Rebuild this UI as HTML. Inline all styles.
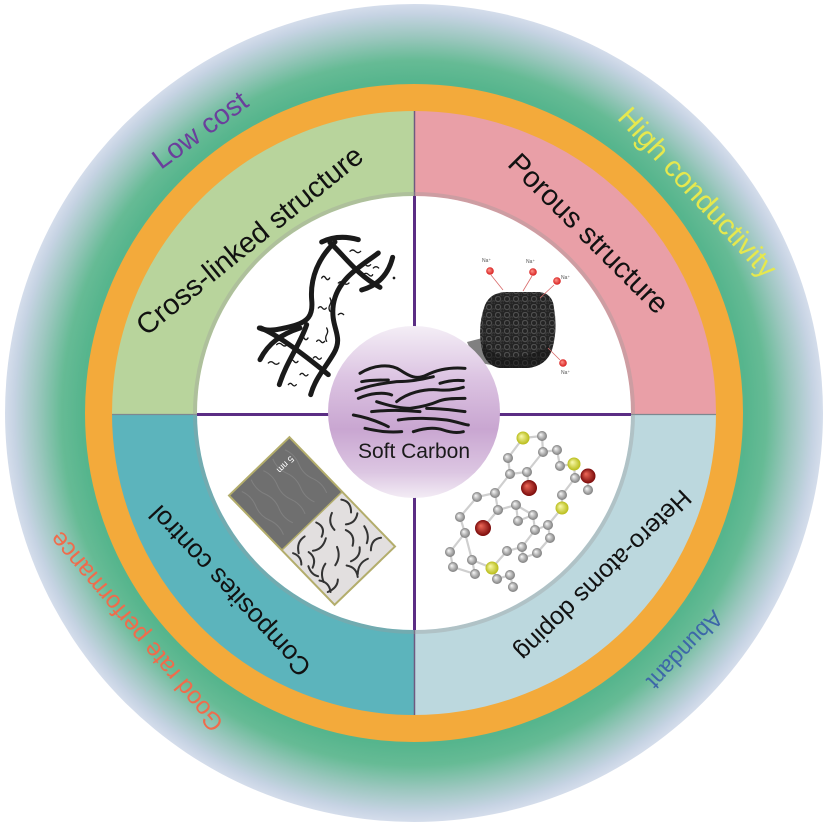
<!DOCTYPE html>
<html><head><meta charset="utf-8"><style>
html,body{margin:0;padding:0;background:#fff;}
svg{display:block;}
text{font-family:"Liberation Sans",Arial,sans-serif;}
</style></head><body>
<svg width="827" height="822" viewBox="0 0 827 822" xmlns="http://www.w3.org/2000/svg">
<defs>
<radialGradient id="outer" gradientUnits="userSpaceOnUse" cx="414" cy="413" r="410">
<stop offset="0" stop-color="#56b58d"/>
<stop offset="0.81" stop-color="#56b58d"/>
<stop offset="0.86" stop-color="#66bb95"/>
<stop offset="0.92" stop-color="#9cc7bf"/>
<stop offset="0.975" stop-color="#c6d3e3"/>
<stop offset="1" stop-color="#d6deec"/>
</radialGradient>
<clipPath id="sq"><circle cx="414" cy="413" r="303"/></clipPath>
<linearGradient id="sc" x1="0" y1="0" x2="0" y2="1">
<stop offset="0" stop-color="#f4eef6"/>
<stop offset="0.3" stop-color="#dcc4e2"/>
<stop offset="0.6" stop-color="#c9a6d1"/>
<stop offset="0.85" stop-color="#dcc6e2"/>
<stop offset="1" stop-color="#f3ecf5"/>
</linearGradient>
<radialGradient id="gb" fx="0.35" fy="0.35"><stop offset="0" stop-color="#fafafa"/><stop offset="1" stop-color="#7d7d7d"/></radialGradient>
<radialGradient id="yb" fx="0.35" fy="0.35"><stop offset="0" stop-color="#fbfbb0"/><stop offset="1" stop-color="#b8bc18"/></radialGradient>
<radialGradient id="rb" fx="0.35" fy="0.35"><stop offset="0" stop-color="#f06a5a"/><stop offset="1" stop-color="#7a0a0a"/></radialGradient>
<radialGradient id="nab" fx="0.35" fy="0.35"><stop offset="0" stop-color="#ff9a90"/><stop offset="1" stop-color="#d81e1e"/></radialGradient>
<pattern id="pores" width="9" height="8" patternUnits="userSpaceOnUse">
<rect width="9" height="8" fill="#242424"/>
<circle cx="3" cy="3" r="2.6" fill="none" stroke="#4e4e4e" stroke-width="1.2"/>
<circle cx="7.5" cy="6.5" r="1.8" fill="none" stroke="#3e3e3e" stroke-width="1"/>
</pattern>
</defs>

<!-- outer band -->
<circle cx="414" cy="413" r="409" fill="url(#outer)"/>

<!-- quadrants -->
<g clip-path="url(#sq)">
<rect x="112" y="111" width="302.5" height="303.5" fill="#b8d49c"/>
<rect x="414.5" y="111" width="302" height="303.5" fill="#e99fa7"/>
<rect x="112" y="414.5" width="302.5" height="301" fill="#5cb4bc"/>
<rect x="414.5" y="414.5" width="302" height="301" fill="#bcd8de"/>
<line x1="414.5" y1="108" x2="414.5" y2="718" stroke="#6e5a80" stroke-width="1.5"/>
<line x1="109" y1="414.5" x2="719" y2="414.5" stroke="#7d8890" stroke-width="1.2"/>
</g>

<!-- orange ring -->
<circle cx="414" cy="413" r="315.5" fill="none" stroke="#f3aa3b" stroke-width="27"/>

<!-- inner white circle -->
<circle cx="414" cy="413" r="219" fill="none" stroke="#9a9a9a" stroke-opacity="0.35" stroke-width="4"/>
<circle cx="414" cy="413" r="217" fill="#ffffff"/>

<!-- purple dividers -->
<line x1="414.5" y1="196" x2="414.5" y2="630" stroke="#5b2d84" stroke-width="3"/>
<line x1="197" y1="414.5" x2="631" y2="414.5" stroke="#5b2d84" stroke-width="3"/>

<!-- cross-linked doodle -->
<g transform="translate(250,228) scale(0.3333)" fill="none" stroke="#1a1a1a" stroke-linecap="round">
<g stroke-width="15">
<path d="M215,42 Q265,18 325,35"/>
<path d="M240,44 C280,80 320,140 390,178"/>
<path d="M385,75 C340,110 262,150 250,230 C240,300 282,322 252,375 C226,420 196,450 182,500"/>
<path d="M428,88 C415,140 385,172 335,186"/>
<path d="M255,42 C205,90 180,150 185,215 C190,262 175,282 125,295 C85,305 55,312 28,300"/>
<path d="M170,290 C150,350 110,400 88,470"/>
<path d="M32,300 C80,320 150,370 235,440"/>
<path d="M30,395 C55,345 95,318 150,300"/>
</g>
<g stroke-width="4">
<path d="M300,70 q8,-8 16,0 t16,0"/>
<path d="M330,110 q8,-8 16,0 t16,0"/>
<path d="M215,150 q6,-10 12,0 t12,0"/>
<path d="M265,165 q8,-8 16,0 t16,0"/>
<path d="M340,140 q8,-8 16,0 t12,0"/>
<path d="M240,210 q6,10 0,20 t0,20"/>
<path d="M205,240 q6,-8 12,0 t12,0"/>
<path d="M265,260 q8,-8 16,0"/>
<path d="M230,300 q6,10 0,20 t0,20"/>
<path d="M150,330 q6,-10 12,0 t12,0"/>
<path d="M200,340 q6,-8 12,0 t12,0"/>
<path d="M80,350 q8,-8 16,0 t16,0"/>
<path d="M55,405 q8,-8 16,0 t16,0"/>
<path d="M120,400 q6,-8 12,0 t12,0"/>
<path d="M190,390 q6,-8 12,0 t12,0"/>
<path d="M150,440 q6,-8 12,0 t12,0"/>
<path d="M115,470 q6,-8 12,0 t12,0"/>
<path d="M370,120 q8,-8 16,0"/>
</g>
<circle cx="432" cy="150" r="4" fill="#1a1a1a" stroke="none"/>
</g>

<!-- porous blob -->
<g>
<polygon points="467,342 490,336 496,366 476,362" fill="#6a6a6a" opacity="0.85"/>
<path d="M485,305 Q490,293 505,292 L540,292 Q553,294 554,308 Q558,330 552,350 Q546,366 528,368 L500,368 Q486,366 482,350 Q477,326 485,305 Z" fill="url(#pores)"/>
<path d="M482,350 Q486,366 500,368 L528,368 Q546,366 552,350 L548,346 Q530,358 505,357 Q490,354 484,343 Z" fill="#111" opacity="0.5"/>
<g stroke="#d86a6a" stroke-width="0.8" fill="none">
<line x1="491" y1="275" x2="503" y2="290"/>
<line x1="532" y1="276" x2="523" y2="291"/>
<line x1="554" y1="285" x2="540" y2="298"/>
<line x1="560" y1="360" x2="548" y2="348"/>
</g>
<circle cx="490" cy="271" r="3.8" fill="url(#nab)"/>
<circle cx="533" cy="272" r="3.8" fill="url(#nab)"/>
<circle cx="557" cy="281" r="3.8" fill="url(#nab)"/>
<circle cx="563" cy="363" r="3.8" fill="url(#nab)"/>
<g font-size="5" fill="#555">
<text x="482" y="262">Na⁺</text>
<text x="526" y="263">Na⁺</text>
<text x="561" y="279">Na⁺</text>
<text x="561" y="374">Na⁺</text>
</g>
</g>

<!-- molecule -->
<g stroke="#cfcfcf" stroke-width="2.2" fill="none">
<path d="M523,438 L542,436 L543,452 L557,450 L560,466 L574,464 L575,478 L588,476 L588,490 M575,478 L562,495 L562,508 L548,525 L550,538 M523,438 L508,458 L510,474 L527,472 L529,488 M510,474 L495,493 L477,497 L460,517 L465,533 L450,552 L453,567 L475,574 L472,560 L465,533 M495,493 L498,510 L516,505 L518,521 L533,515 L535,530 L548,525 M516,505 L533,515 M498,510 L483,528 M472,560 L492,568 L507,551 L522,547 L523,558 L537,553 L550,538 M522,547 L535,530 M492,568 L497,579 L510,575 L513,587 M543,452 L527,472"/>
</g>
<g>
<g fill="url(#gb)">
<circle cx="542" cy="436" r="5"/><circle cx="543" cy="452" r="5"/><circle cx="557" cy="450" r="5"/><circle cx="560" cy="466" r="5"/>
<circle cx="508" cy="458" r="5"/><circle cx="510" cy="474" r="5"/><circle cx="527" cy="472" r="5"/><circle cx="575" cy="478" r="5"/>
<circle cx="588" cy="490" r="5"/><circle cx="562" cy="495" r="5"/><circle cx="477" cy="497" r="5"/><circle cx="495" cy="493" r="5"/>
<circle cx="498" cy="510" r="5"/><circle cx="516" cy="505" r="5"/><circle cx="533" cy="515" r="5"/><circle cx="518" cy="521" r="5"/>
<circle cx="535" cy="530" r="5"/><circle cx="548" cy="525" r="5"/><circle cx="550" cy="538" r="5"/><circle cx="460" cy="517" r="5"/>
<circle cx="465" cy="533" r="5"/><circle cx="450" cy="552" r="5"/><circle cx="453" cy="567" r="5"/><circle cx="472" cy="560" r="5"/>
<circle cx="475" cy="574" r="5"/><circle cx="507" cy="551" r="5"/><circle cx="522" cy="547" r="5"/><circle cx="523" cy="558" r="5"/>
<circle cx="537" cy="553" r="5"/><circle cx="497" cy="579" r="5"/><circle cx="510" cy="575" r="5"/><circle cx="513" cy="587" r="5"/>
</g>
<g fill="url(#yb)">
<circle cx="523" cy="438" r="6.5"/><circle cx="574" cy="464" r="6.5"/><circle cx="562" cy="508" r="6.5"/><circle cx="492" cy="568" r="6.5"/>
</g>
<g fill="url(#rb)">
<circle cx="588" cy="476" r="7.5"/><circle cx="529" cy="488" r="8"/><circle cx="483" cy="528" r="8"/>
</g>
</g>

<!-- composite TEM image -->
<g transform="translate(312,521) rotate(46)">
<rect x="-76" y="-42" width="76" height="84" fill="#6f6f6f"/>
<g stroke="#888" stroke-width="1" fill="none" opacity="0.7">
<path d="M-70,-30 q10,-4 20,0 t20,0 t20,0"/>
<path d="M-72,-15 q10,4 20,0 t20,0 t20,0"/>
<path d="M-70,0 q10,-4 20,0 t20,0 t20,0"/>
<path d="M-72,15 q10,4 20,0 t20,0 t20,0"/>
<path d="M-70,30 q10,-4 20,0 t20,0 t20,0"/>
</g>
<rect x="0" y="-42" width="76" height="84" fill="#e2dfdf"/>
<g stroke="#333" stroke-width="2" fill="none" stroke-linecap="round">
<path d="M5,-36 q8,-6 16,2"/><path d="M26,-38 q6,8 0,16"/><path d="M40,-34 q10,2 14,10"/><path d="M60,-38 q-6,8 2,16"/>
<path d="M8,-20 q4,10 14,10"/><path d="M30,-18 q10,-4 16,6"/><path d="M52,-16 q8,6 4,16"/><path d="M66,-14 q-4,10 4,18"/>
<path d="M4,-2 q10,-4 14,6"/><path d="M22,2 q6,10 0,18"/><path d="M36,0 q10,4 12,14"/><path d="M56,6 q8,-6 16,0"/>
<path d="M6,16 q-2,10 8,16"/><path d="M20,24 q10,-2 14,8"/><path d="M40,20 q2,10 12,14"/><path d="M60,22 q6,6 2,16"/>
<path d="M10,36 q8,-4 14,2"/><path d="M30,34 q8,4 14,0"/><path d="M48,36 q8,-6 16,0"/>
</g>
<rect x="-76" y="-42" width="152" height="84" fill="none" stroke="#b3ad6c" stroke-width="2"/>
<line x1="0" y1="-42" x2="0" y2="42" stroke="#b3ad6c" stroke-width="1.5"/>
<text x="-62" y="-30" font-size="9" fill="#fff" transform="rotate(90,-62,-30)">5 nm</text>
</g>

<!-- Soft Carbon center -->
<circle cx="414" cy="412" r="86" fill="url(#sc)"/>
<g transform="translate(300,330) scale(0.3333)" fill="none" stroke="#1a1a1a" stroke-width="9" stroke-linecap="round">
<path d="M180,130 C220,105 270,100 300,120 C330,140 350,150 380,135 C420,115 460,112 495,115"/>
<path d="M185,155 C210,150 240,150 265,150"/>
<path d="M168,182 C210,165 250,160 290,155 C330,155 360,150 400,140"/>
<path d="M420,160 C445,152 470,150 490,152"/>
<path d="M175,205 C210,190 250,185 275,195"/>
<path d="M290,215 C320,190 370,175 420,180 C450,182 470,178 490,172"/>
<path d="M230,215 C260,225 300,235 330,235 C360,232 390,225 420,212 C440,205 470,205 495,205"/>
<path d="M215,245 C260,240 310,240 360,245"/>
<path d="M380,235 C420,235 460,240 495,245"/>
<path d="M160,255 C200,262 235,275 265,290"/>
<path d="M295,270 C340,262 400,265 440,270 C470,275 490,283 505,285"/>
<path d="M195,295 C240,305 270,308 305,305"/>
<path d="M340,305 C370,295 400,290 430,300 C450,307 470,310 490,305"/>
</g>
<text x="414" y="458" font-size="21" text-anchor="middle" fill="#1a1a1a">Soft Carbon</text>

<!-- band labels -->
<g fill="#111" text-anchor="middle" dominant-baseline="central">
<text font-size="29" transform="translate(250,241) rotate(-39)">Cross-linked structure</text>
<text font-size="29" transform="translate(588,234) rotate(45)">Porous structure</text>
<text font-size="26" transform="translate(230,591) rotate(-133)">Composites control</text>
<text font-size="25" transform="translate(603,575) rotate(136)">Hetero-atoms doping</text>
</g>

<!-- outer labels -->
<g text-anchor="middle" dominant-baseline="central">
<text font-size="28" fill="#6b3f9c" transform="translate(200,130) rotate(-36)">Low cost</text>
<text font-size="29" fill="#e6e84e" transform="translate(697,193) rotate(47.5)">High conductivity</text>
<text font-size="23" fill="#3d67a8" transform="translate(685,650) rotate(133.7)">Abundant</text>
<text font-size="24.5" fill="#ef6c4c" transform="translate(137,631) rotate(-130.3)">Good rate performance</text>
</g>
</svg>
</body></html>
